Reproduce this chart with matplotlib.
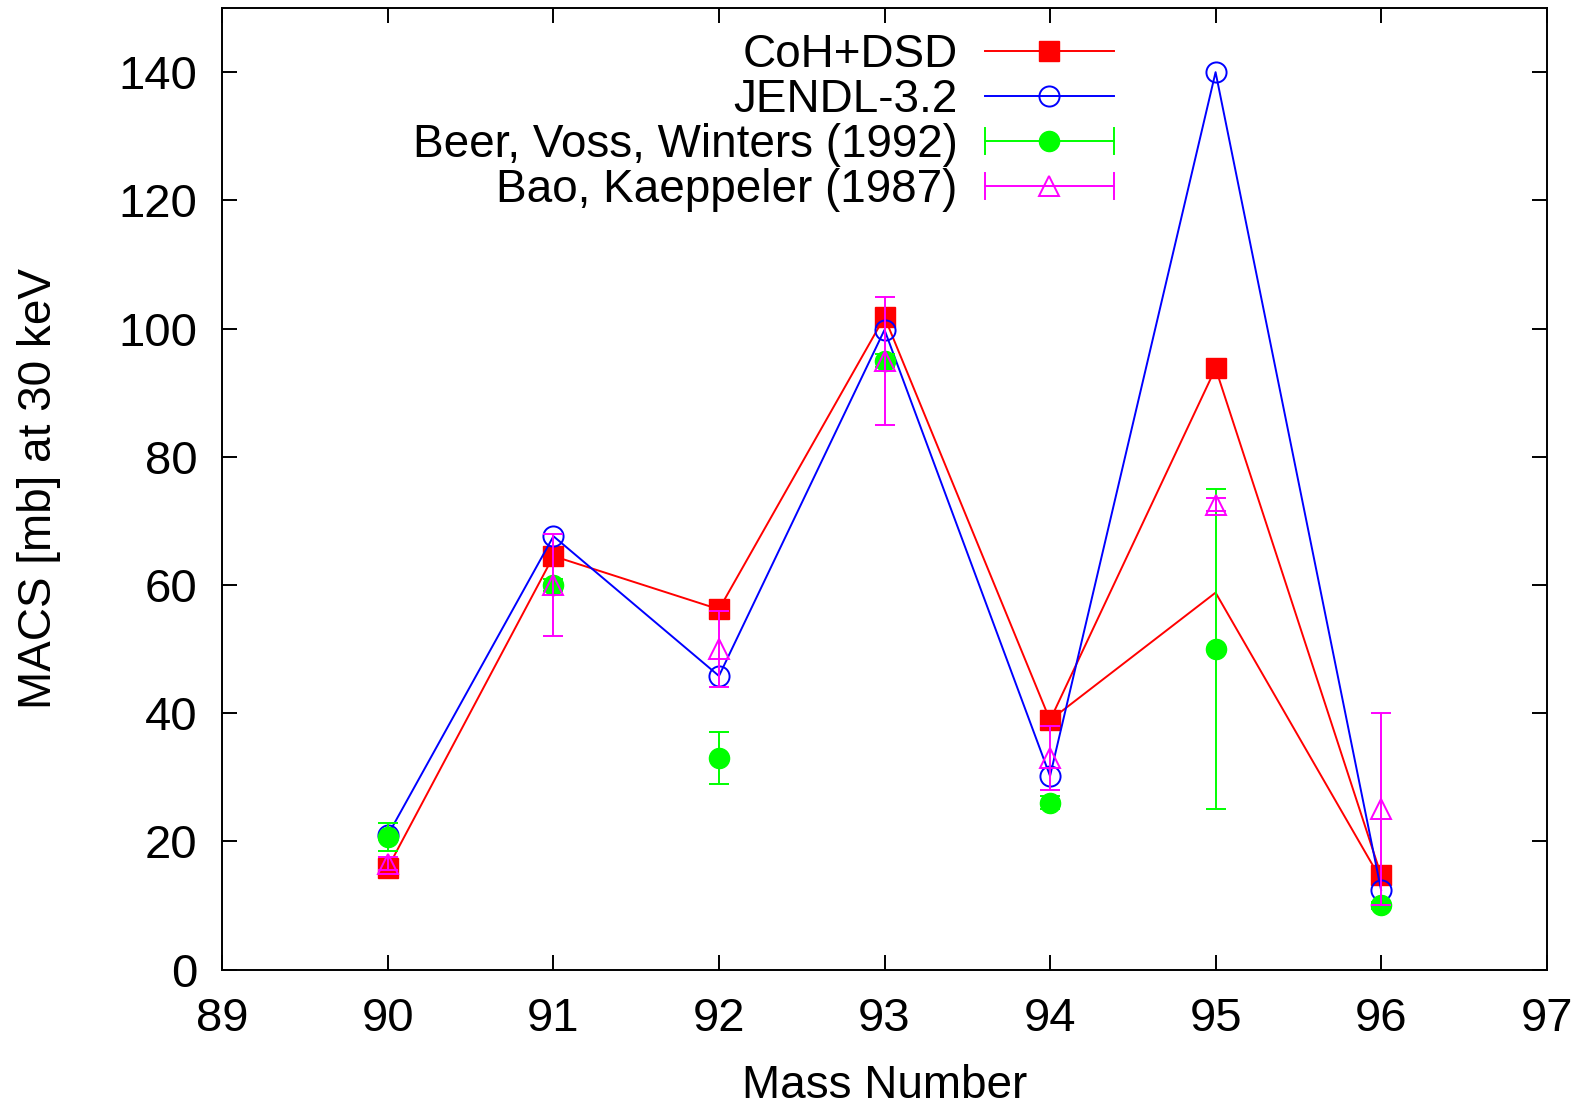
import matplotlib
matplotlib.use("Agg")
import matplotlib.pyplot as plt
from matplotlib.lines import Line2D
from matplotlib.legend_handler import HandlerBase

plt.rcParams["font.family"] = ["Liberation Sans", "DejaVu Sans"]

# Maxwellian-averaged capture cross sections of Zr isotopes at kT = 30 keV
mass = [90, 91, 92, 93, 94, 95, 96]
coh_dsd = [15.9, 64.5, 56.2, 101.8, 38.9, 93.8, 14.7]
coh_dsd_alt_mass = [94, 95, 96]
coh_dsd_alt = [38.9, 58.8, 14.0]
jendl32 = [21.0, 67.6, 45.8, 99.8, 30.2, 140.0, 12.4]
beer = [20.7, 60.0, 33.0, 95.0, 26.0, 50.0, 10.0]
beer_err = [2.2, 1.0, 4.0, 1.0, 1.0, 25.0, 0.5]
bao = [16.5, 60.0, 50.0, 95.0, 33.0, 72.5, 25.0]
bao_err = [1.0, 8.0, 6.0, 10.0, 5.0, 1.0, 15.0]

labels = ["CoH+DSD", "JENDL-3.2", "Beer, Voss, Winters (1992)", "Bao, Kaeppeler (1987)"]
x_ticks = [89, 90, 91, 92, 93, 94, 95, 96, 97]
y_ticks = [0, 20, 40, 60, 80, 100, 120, 140]

RED, BLUE, GREEN, MAGENTA = "#ff0000", "#0000ff", "#00ff00", "#ff00ff"
LW = 1.4
FS = 33
TICK_FS = 34

fig = plt.figure(figsize=(15.85, 11.06), dpi=100)
ax = fig.add_axes([0.1403, 0.1234, 0.8355, 0.8693])

ax.plot(mass, coh_dsd, color=RED, lw=LW, marker="s", ms=15, mec=RED, mfc=RED, zorder=2)
ax.plot(coh_dsd_alt_mass, coh_dsd_alt, color=RED, lw=LW, zorder=2)
ax.plot(mass, jendl32, color=BLUE, lw=LW, marker="o", ms=14.5, mfc="none", mec=BLUE,
        mew=LW, zorder=3)
ax.errorbar(mass, beer, yerr=beer_err, fmt="o", ms=14.5, color=GREEN, mfc=GREEN, mec=GREEN,
            elinewidth=LW, capsize=7.5, capthick=LW, zorder=4)
ax.errorbar(mass, bao, yerr=bao_err, fmt="^", ms=14, color=MAGENTA, mfc="none", mec=MAGENTA,
            mew=LW, elinewidth=LW, capsize=7.5, capthick=LW, zorder=5)

ax.set_xlim(89, 97)
ax.set_ylim(0, 150)
ax.set_xticks(x_ticks)
ax.set_yticks(y_ticks)
ax.tick_params(direction="in", length=11, width=LW, top=True, right=True, labelsize=TICK_FS)
ax.tick_params(axis="x", pad=20)
ax.tick_params(axis="y", pad=18)
for s in ax.spines.values():
    s.set_linewidth(LW)
ax.set_xlabel("Mass Number", fontsize=FS, labelpad=16)
ax.set_ylabel("MACS [mb] at 30 keV", fontsize=FS, labelpad=41)


class KeySample(HandlerBase):
    """Key entry with a line through a centred marker and optional end caps."""

    def __init__(self, caps=False, **kw):
        super().__init__(**kw)
        self.caps = caps

    def create_artists(self, legend, orig, xdescent, ydescent, width, height, fontsize, trans):
        y = height / 2 - ydescent
        x0, x1 = -xdescent, width - xdescent
        arts = [Line2D([x0, x1], [y, y], color=orig.get_color(), lw=orig.get_linewidth()),
                Line2D([(x0 + x1) / 2], [y], ls="none", marker=orig.get_marker(),
                       ms=orig.get_markersize(), mfc=orig.get_markerfacecolor(),
                       mec=orig.get_markeredgecolor(), mew=orig.get_markeredgewidth())]
        if self.caps:
            h = 0.28 * fontsize
            arts += [Line2D([x0, x0], [y - h, y + h], color=orig.get_color(), lw=orig.get_linewidth()),
                     Line2D([x1, x1], [y - h, y + h], color=orig.get_color(), lw=orig.get_linewidth())]
        for a in arts:
            a.set_transform(trans)
        return arts


h_coh = Line2D([], [], color=RED, lw=LW, marker="s", ms=15, mfc=RED, mec=RED)
h_jendl = Line2D([], [], color=BLUE, lw=LW, marker="o", ms=14.5, mfc="none", mec=BLUE, mew=LW)
h_beer = Line2D([], [], color=GREEN, lw=LW, marker="o", ms=14.5, mfc=GREEN, mec=GREEN)
h_bao = Line2D([], [], color=MAGENTA, lw=LW, marker="^", ms=14, mfc="none", mec=MAGENTA, mew=LW)

leg = ax.legend([h_coh, h_jendl, h_beer, h_bao], labels,
                handler_map={h_coh: KeySample(), h_jendl: KeySample(),
                             h_beer: KeySample(caps=True), h_bao: KeySample(caps=True)},
                loc="upper right", bbox_to_anchor=(0.673, 0.974), frameon=False,
                markerfirst=False, fontsize=FS, handlelength=2.8, handletextpad=0.6,
                labelspacing=0.02, borderpad=0, borderaxespad=0, handleheight=0.7)

fig.savefig("out.png", dpi=100)
